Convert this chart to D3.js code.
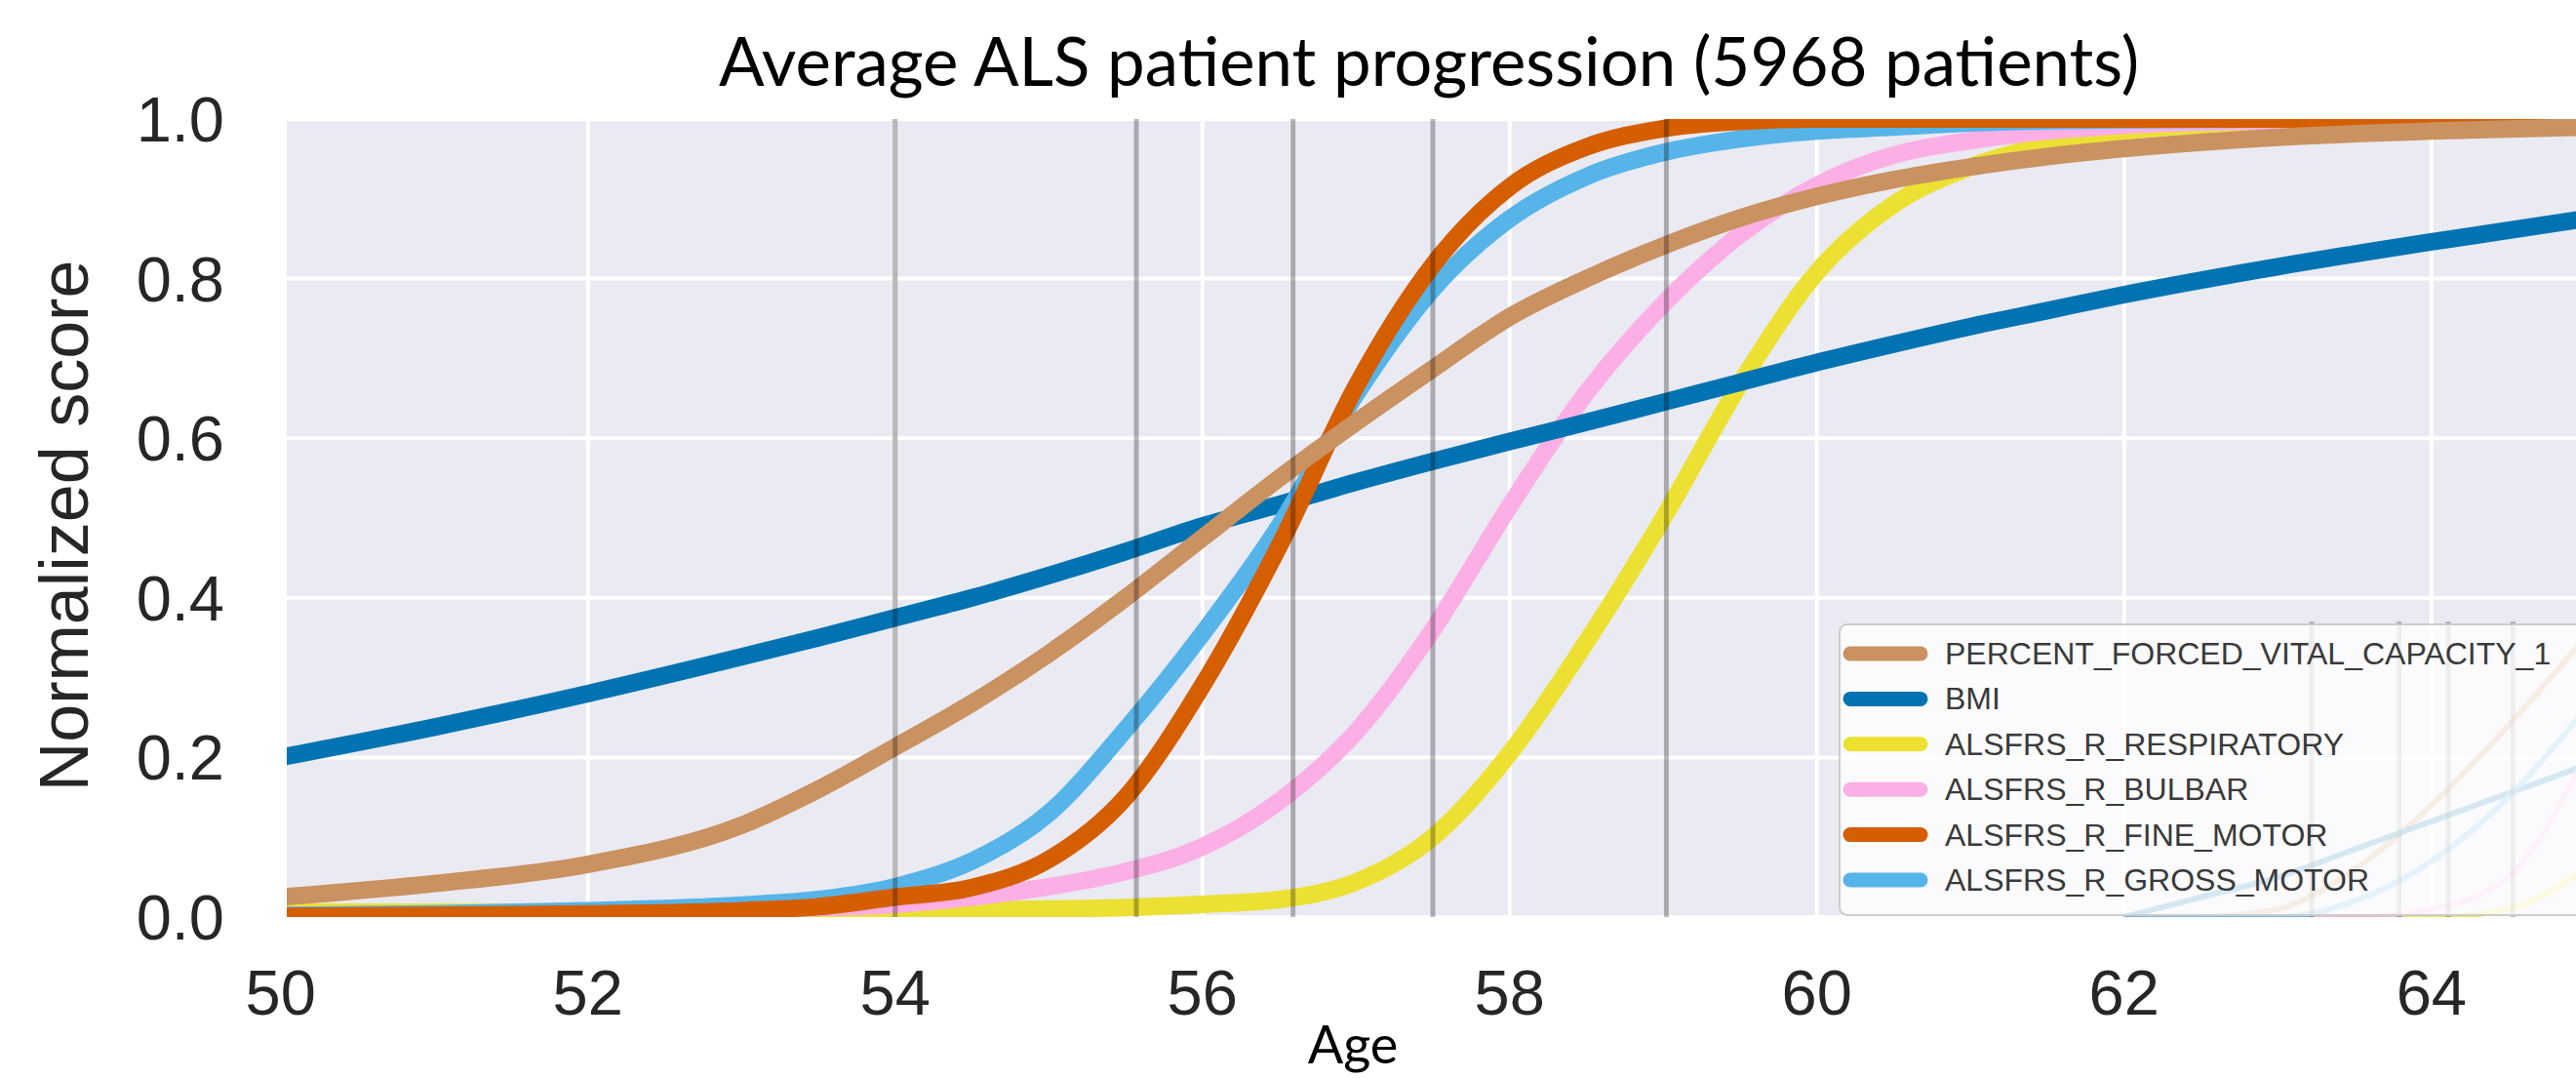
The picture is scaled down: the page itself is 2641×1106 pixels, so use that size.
<!DOCTYPE html>
<html>
<head>
<meta charset="utf-8">
<script src="https://cdn.jsdelivr.net/npm/d3@7"></script>
<style>
  html, body { margin: 0; padding: 0; background: #ffffff; }
  svg { display: block; }
</style>
</head>
<body>
<svg id="chart" width="2641" height="1106"></svg>
<script>
// ---------------- data ----------------
const ages = [50, 51, 52, 53, 53.5, 54, 54.5, 55, 55.5, 56, 56.5, 57, 57.5, 58, 58.5, 59, 59.5, 60, 60.5, 61, 61.5, 62, 63, 64, 65];
const pfvc        = [0.025, 0.042, 0.066, 0.115, 0.16, 0.213, 0.268, 0.33, 0.40, 0.475, 0.55, 0.62, 0.687, 0.752, 0.80, 0.841, 0.876, 0.903, 0.924, 0.94, 0.953, 0.963, 0.977, 0.985, 0.99];
const bmi         = [0.20, 0.238, 0.28, 0.326, 0.35, 0.375, 0.40, 0.428, 0.458, 0.49, 0.517, 0.545, 0.571, 0.596, 0.62, 0.645, 0.67, 0.695, 0.718, 0.74, 0.76, 0.78, 0.815, 0.846, 0.875];
const respiratory = [0.006, 0.006, 0.006, 0.007, 0.007, 0.008, 0.009, 0.01, 0.012, 0.016, 0.022, 0.044, 0.10, 0.205, 0.345, 0.50, 0.668, 0.808, 0.893, 0.94, 0.968, 0.985, 0.996, 1.0, 1.0];
const bulbar      = [0.002, 0.003, 0.005, 0.009, 0.012, 0.016, 0.025, 0.038, 0.057, 0.088, 0.145, 0.232, 0.36, 0.515, 0.657, 0.768, 0.855, 0.917, 0.955, 0.973, 0.985, 0.992, 0.998, 1.0, 1.0];
const fineMotor   = [0.001, 0.002, 0.004, 0.008, 0.013, 0.025, 0.037, 0.072, 0.15, 0.29, 0.465, 0.665, 0.817, 0.915, 0.965, 0.988, 0.997, 1.0, 1.0, 1.0, 1.0, 1.0, 1.0, 1.0, 1.0];
const grossMotor  = [0.002, 0.004, 0.008, 0.015, 0.022, 0.038, 0.07, 0.13, 0.235, 0.355, 0.49, 0.655, 0.787, 0.875, 0.928, 0.958, 0.975, 0.985, 0.99, 0.995, 0.998, 0.999, 1.0, 1.0, 1.0];

// a second, mostly hidden set of curves behind the legend
const ages2  = [62, 62.5, 63, 63.5, 64, 64.5, 65];
const bmi2   = [0.0, 0.025, 0.05, 0.085, 0.12, 0.155, 0.19];
const pfvc2  = [0.0, 0.0, 0.01, 0.06, 0.14, 0.24, 0.35];
const gross2 = [0.0, 0.0, 0.0, 0.02, 0.07, 0.15, 0.26];
const bulb2  = [0.0, 0.0, 0.0, 0.0, 0.01, 0.05, 0.2];
const resp2  = [0.0, 0.0, 0.0, 0.0, 0.0, 0.01, 0.06];

const seriesNames = ["PERCENT_FORCED_VITAL_CAPACITY_1", "BMI", "ALSFRS_R_RESPIRATORY", "ALSFRS_R_BULBAR", "ALSFRS_R_FINE_MOTOR", "ALSFRS_R_GROSS_MOTOR"];
const seriesColors = ["#CA9161", "#0173B2", "#ECE133", "#FBAFE4", "#D55E00", "#56B4E9"];
const seriesValues = [pfvc, bmi, respiratory, bulbar, fineMotor, grossMotor];
const drawOrder = [2, 3, 1, 5, 4, 0];

const eventAges  = [54.0, 55.57, 56.59, 57.5, 59.02];
const eventAges2 = [63.22, 63.79, 64.11, 64.53];

const xTicks = [50, 52, 54, 56, 58, 60, 62, 64];
const yTicks = [0.0, 0.2, 0.4, 0.6, 0.8, 1.0];

const titleText = "Average ALS patient progression (5968 patients)";
const xLabel = "Age";
const yLabel = "Normalized score";

// ---------------- layout ----------------
const W = 2641, H = 1106;
const plot = { left: 294, top: 122, right: 2641, bottom: 940 };
const x = d3.scaleLinear().domain([50.04, 64.96]).range([294, 2644]);
const y = d3.scaleLinear().domain([0, 1]).range([940, 122]);

const svg = d3.select("#chart");
svg.append("rect").attr("width", W).attr("height", H).attr("fill", "#ffffff");

const defs = svg.append("defs");
defs.append("clipPath").attr("id", "plotclip")
  .append("rect").attr("x", plot.left).attr("y", plot.top)
  .attr("width", plot.right - plot.left).attr("height", plot.bottom - plot.top);

svg.append("rect")
  .attr("x", plot.left).attr("y", plot.top)
  .attr("width", plot.right - plot.left).attr("height", plot.bottom - plot.top)
  .attr("fill", "#EAEAF2");

const g = svg.append("g").attr("clip-path", "url(#plotclip)");

g.selectAll(".vgrid").data(xTicks).enter().append("line")
  .attr("x1", d => x(d)).attr("x2", d => x(d))
  .attr("y1", plot.top).attr("y2", plot.bottom)
  .attr("stroke", "#ffffff").attr("stroke-width", 4);
g.selectAll(".hgrid").data(yTicks).enter().append("line")
  .attr("y1", d => y(d)).attr("y2", d => y(d))
  .attr("x1", plot.left).attr("x2", plot.right)
  .attr("stroke", "#ffffff").attr("stroke-width", 4);

const line = d3.line().x(d => x(d[0])).y(d => y(d[1])).curve(d3.curveMonotoneX);

const hidden = [[pfvc2, 0], [bmi2, 1], [resp2, 2], [bulb2, 3], [gross2, 5]];
hidden.forEach(([vals, ci]) => {
  g.append("path")
    .attr("d", line(ages2.map((a, i) => [a, vals[i]])))
    .attr("fill", "none").attr("stroke", seriesColors[ci])
    .attr("stroke-width", 6).attr("opacity", 0.8);
});
g.selectAll(".ev2").data(eventAges2).enter().append("line")
  .attr("x1", d => x(d)).attr("x2", d => x(d))
  .attr("y1", y(0)).attr("y2", y(0.37))
  .attr("stroke", "#000").attr("stroke-opacity", 0.28).attr("stroke-width", 5);

drawOrder.forEach(si => {
  g.append("path")
    .attr("d", line(ages.map((a, i) => [a, seriesValues[si][i]])))
    .attr("fill", "none")
    .attr("stroke", seriesColors[si])
    .attr("stroke-width", 18)
    .attr("stroke-linejoin", "round");
});

g.selectAll(".ev").data(eventAges).enter().append("line")
  .attr("x1", d => x(d)).attr("x2", d => x(d))
  .attr("y1", plot.top).attr("y2", plot.bottom)
  .attr("stroke", "#000").attr("stroke-opacity", 0.28).attr("stroke-width", 5);

const tickFont = "'Liberation Sans', Arial, sans-serif";
svg.selectAll(".ytl").data(yTicks).enter().append("text")
  .attr("x", 230).attr("y", d => y(d) + 23)
  .attr("text-anchor", "end")
  .attr("font-family", tickFont).attr("font-size", 65).attr("fill", "#262626")
  .text(d => d3.format(".1f")(d));
svg.selectAll(".xtl").data(xTicks).enter().append("text")
  .attr("x", d => x(d)).attr("y", 1040)
  .attr("text-anchor", "middle")
  .attr("font-family", tickFont).attr("font-size", 65).attr("fill", "#262626")
  .text(d => d);

svg.append("text")
  .attr("transform", "translate(90,539) rotate(-90)")
  .attr("text-anchor", "middle")
  .attr("font-family", tickFont).attr("font-size", 70).attr("fill", "#262626")
  .text(yLabel);

svg.append("text")
  .attr("x", 1387).attr("y", 1090)
  .attr("text-anchor", "middle")
  .attr("font-family", "Lato, 'Open Sans', sans-serif").attr("font-size", 54).attr("fill", "#000")
  .text(xLabel);

svg.append("text")
  .attr("x", 1465).attr("y", 88)
  .attr("text-anchor", "middle")
  .attr("font-family", "Lato, 'Open Sans', sans-serif").attr("font-size", 69).attr("fill", "#000")
  .text(titleText);

const leg = svg.append("g");
leg.append("rect")
  .attr("x", 1886).attr("y", 640).attr("width", 800).attr("height", 298).attr("rx", 8)
  .attr("fill", "#ffffff").attr("fill-opacity", 0.8)
  .attr("stroke", "#cccccc").attr("stroke-width", 2);
seriesNames.forEach((name, i) => {
  const cy = 670 + 46.4 * i;
  leg.append("line")
    .attr("x1", 1897).attr("x2", 1969).attr("y1", cy).attr("y2", cy)
    .attr("stroke", seriesColors[i]).attr("stroke-width", 15).attr("stroke-linecap", "round");
  leg.append("text")
    .attr("x", 1994).attr("y", cy + 11)
    .attr("font-family", tickFont).attr("font-size", 32).attr("fill", "#3a3a3a")
    .text(name);
});
</script>
</body>
</html>
